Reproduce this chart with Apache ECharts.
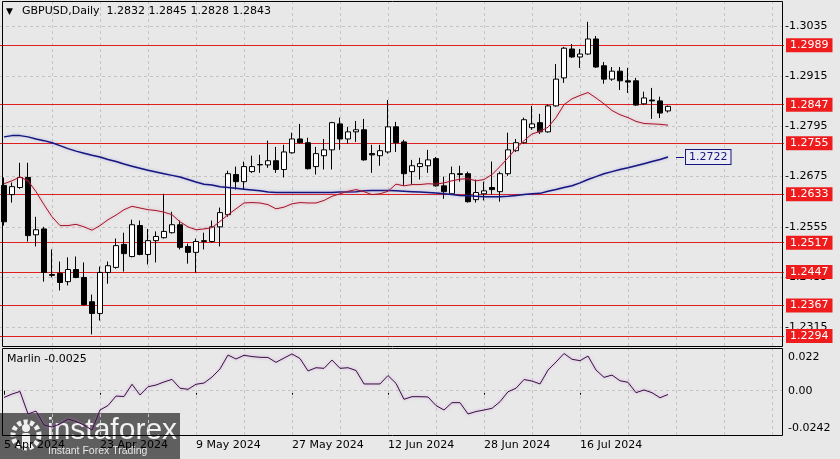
<!DOCTYPE html>
<html><head><meta charset="utf-8">
<script src="https://cdn.jsdelivr.net/npm/echarts/dist/echarts.min.js"></script>
<style>html,body{margin:0;padding:0;background:#e8e8e8}#c{width:840px;height:459px}</style>
</head><body><div id="c"></div>
<script>
const categories = [
'5 Apr 2024','8 Apr 2024','9 Apr 2024','10 Apr 2024','11 Apr 2024','12 Apr 2024','15 Apr 2024','16 Apr 2024','17 Apr 2024','18 Apr 2024',
'19 Apr 2024','22 Apr 2024','23 Apr 2024','24 Apr 2024','25 Apr 2024','26 Apr 2024','29 Apr 2024','30 Apr 2024','1 May 2024','2 May 2024',
'3 May 2024','6 May 2024','7 May 2024','8 May 2024','9 May 2024','10 May 2024','13 May 2024','14 May 2024','15 May 2024','16 May 2024',
'17 May 2024','20 May 2024','21 May 2024','22 May 2024','23 May 2024','24 May 2024','27 May 2024','28 May 2024','29 May 2024','30 May 2024',
'31 May 2024','3 Jun 2024','4 Jun 2024','5 Jun 2024','6 Jun 2024','7 Jun 2024','10 Jun 2024','11 Jun 2024','12 Jun 2024','13 Jun 2024',
'14 Jun 2024','17 Jun 2024','18 Jun 2024','19 Jun 2024','20 Jun 2024','21 Jun 2024','24 Jun 2024','25 Jun 2024','26 Jun 2024','27 Jun 2024',
'28 Jun 2024','1 Jul 2024','2 Jul 2024','3 Jul 2024','4 Jul 2024','5 Jul 2024','8 Jul 2024','9 Jul 2024','10 Jul 2024','11 Jul 2024',
'12 Jul 2024','15 Jul 2024','16 Jul 2024','17 Jul 2024','18 Jul 2024','19 Jul 2024','22 Jul 2024','23 Jul 2024','24 Jul 2024','25 Jul 2024',
'26 Jul 2024','29 Jul 2024','30 Jul 2024','31 Jul 2024'];
const futureSlots = 14;

const open = [1.2654,1.2632,1.2649,1.2673,1.2536,1.2550,1.2441,1.2444,1.2424,1.2453,
1.2434,1.2376,1.2348,1.2446,1.2458,1.2513,1.2484,1.2558,1.2489,1.2522,
1.2529,1.2541,1.2560,1.2508,1.2494,1.2520,1.2520,1.2555,1.2584,1.2680,
1.2663,1.2687,1.2703,1.2703,1.2713,1.2692,1.2732,1.2765,1.2756,1.2699,
1.2725,1.2739,1.2801,1.2765,1.2782,1.2787,1.2730,1.2725,1.2734,1.2794,
1.2758,1.2687,1.2699,1.2701,1.2718,1.2653,1.2634,1.2682,1.2682,1.2620,
1.2634,1.2649,1.2639,1.2682,1.2737,1.2756,1.2792,1.2804,1.2782,1.2844,
1.2911,1.2980,1.2961,1.2968,1.3004,1.2940,1.2908,1.2927,1.2904,1.2904,
1.2849,1.2858,1.2856,1.2832];
const high = [1.2673,1.2661,1.2708,1.2708,1.2579,1.2555,1.2501,1.2472,1.2482,1.2484,
1.2470,1.2393,1.2460,1.2472,1.2527,1.2541,1.2572,1.2570,1.2550,1.2544,
1.2634,1.2591,1.2570,1.2515,1.2527,1.2541,1.2570,1.2601,1.2689,1.2699,
1.2711,1.2725,1.2727,1.2761,1.2746,1.2751,1.2780,1.2801,1.2768,1.2746,
1.2765,1.2806,1.2816,1.2794,1.2808,1.2813,1.2751,1.2751,1.2858,1.2806,
1.2763,1.2715,1.2720,1.2739,1.2722,1.2675,1.2699,1.2701,1.2687,1.2668,
1.2663,1.2711,1.2687,1.2780,1.2765,1.2816,1.2844,1.2825,1.2847,1.2944,
1.2985,1.2992,1.2980,1.3045,1.3011,1.2949,1.2937,1.2937,1.2935,1.2911,
1.2878,1.2887,1.2866,1.2845];
const low = [1.2558,1.2613,1.2646,1.2520,1.2508,1.2424,1.2434,1.2403,1.2415,1.2432,
1.2367,1.2298,1.2331,1.2419,1.2455,1.2448,1.2482,1.2487,1.2465,1.2470,
1.2527,1.2539,1.2501,1.2467,1.2446,1.2501,1.2517,1.2508,1.2579,1.2644,
1.2644,1.2684,1.2684,1.2696,1.2684,1.2673,1.2730,1.2754,1.2692,1.2680,
1.2692,1.2692,1.2739,1.2754,1.2758,1.2713,1.2684,1.2701,1.2730,1.2734,
1.2653,1.2656,1.2668,1.2684,1.2651,1.2622,1.2632,1.2663,1.2613,1.2613,
1.2618,1.2632,1.2615,1.2677,1.2734,1.2754,1.2787,1.2777,1.2780,1.2842,
1.2899,1.2959,1.2935,1.2966,1.2935,1.2897,1.2904,1.2882,1.2875,1.2844,
1.2846,1.2813,1.2815,1.2828];
const close = [1.2567,1.2651,1.2673,1.2534,1.2548,1.2446,1.2439,1.2422,1.2453,1.2434,
1.2369,1.2348,1.2446,1.2462,1.2510,1.2491,1.2560,1.2489,1.2522,1.2532,
1.2544,1.2560,1.2506,1.2494,1.2520,1.2522,1.2555,1.2589,1.2682,1.2663,
1.2699,1.2699,1.2704,1.2713,1.2692,1.2734,1.2765,1.2756,1.2694,1.2730,
1.2739,1.2804,1.2765,1.2782,1.2787,1.2715,1.2727,1.2737,1.2794,1.2756,
1.2682,1.2701,1.2706,1.2715,1.2653,1.2639,1.2682,1.2680,1.2615,1.2637,
1.2641,1.2644,1.2682,1.2739,1.2756,1.2811,1.2801,1.2782,1.2844,1.2908,
1.2982,1.2961,1.2968,1.3004,1.2937,1.2908,1.2927,1.2904,1.2901,1.2846,
1.2863,1.2856,1.2827,1.2843];

const blueMA = [1.2770,1.2773,1.2773,1.2770,1.2765,1.2761,1.2756,1.2749,1.2742,1.2736,
1.2731,1.2726,1.2722,1.2716,1.2711,1.2705,1.2700,1.2695,1.2690,1.2686,
1.2682,1.2678,1.2674,1.2668,1.2662,1.2657,1.2655,1.2651,1.2649,1.2647,
1.2645,1.2643,1.2641,1.2638,1.2637,1.2637,1.2637,1.2637,1.2637,1.2637,
1.2637,1.2637,1.2638,1.2638,1.2639,1.2641,1.2642,1.2642,1.2642,1.2641,
1.2640,1.2639,1.2638,1.2637,1.2636,1.2634,1.2632,1.2630,1.2629,1.2628,
1.2627,1.2627,1.2627,1.2628,1.2630,1.2632,1.2634,1.2635,1.2640,1.2644,
1.2649,1.2653,1.2660,1.2668,1.2675,1.2682,1.2687,1.2692,1.2696,1.2701,
1.2706,1.2711,1.2716,1.2722];
const redMA = [1.2658,1.2665,1.2674,1.2665,1.2639,1.2608,1.2579,1.2558,1.2558,1.2561,
1.2555,1.2547,1.2558,1.2572,1.2583,1.2596,1.2604,1.2600,1.2596,1.2594,
1.2590,1.2584,1.2567,1.2555,1.2548,1.2550,1.2553,1.2568,1.2584,1.2598,
1.2612,1.2613,1.2612,1.2608,1.2598,1.2602,1.2610,1.2613,1.2612,1.2612,
1.2618,1.2628,1.2634,1.2640,1.2644,1.2639,1.2632,1.2634,1.2640,1.2657,
1.2653,1.2656,1.2656,1.2658,1.2657,1.2660,1.2665,1.2669,1.2670,1.2665,
1.2668,1.2680,1.2699,1.2720,1.2742,1.2761,1.2777,1.2783,1.2793,1.2816,
1.2847,1.2861,1.2869,1.2876,1.2863,1.2849,1.2833,1.2823,1.2816,1.2807,
1.2802,1.2801,1.2800,1.2798];
const marlin = [-0.0044,-0.0022,-0.0005,-0.0152,-0.0133,-0.0224,-0.0237,-0.0217,-0.0185,-0.0201,
-0.0224,-0.0257,-0.0126,-0.0097,-0.0035,-0.0038,0.0042,-0.0028,0.0026,0.0037,
0.0057,0.0074,0.0016,0.0009,0.0042,0.0050,0.0089,0.0142,0.0233,0.0207,
0.0231,0.0223,0.0218,0.0217,0.0185,0.0213,0.0240,0.0210,0.0129,0.0150,
0.0146,0.0200,0.0146,0.0150,0.0132,0.0044,0.0044,0.0044,0.0099,0.0048,
-0.0056,-0.0039,-0.0039,-0.0041,-0.0097,-0.0126,-0.0078,-0.0078,-0.0152,-0.0136,
-0.0126,-0.0115,-0.0072,-0.0007,0.0016,0.0073,0.0063,0.0044,0.0135,0.0187,
0.0243,0.0205,0.0196,0.0226,0.0135,0.0087,0.0102,0.0065,0.0055,-0.0013,
0.0005,-0.0013,-0.0046,-0.0025];

const priceTicks = [1.2315,1.2435,1.2555,1.2675,1.2795,1.2915,1.3035];
const levels = [1.2989,1.2847,1.2755,1.2633,1.2517,1.2447,1.2367,1.2294];
const marlinTicks = [0.022,0.00,-0.0242];
const marlinTickLabels = ['0.022','0.00','-0.0242'];
const dateLabelIdx = [0,12,24,36,48,60,72];
const vGridIdx = [6,12,18,24,30,36,42,48,54,60,66,72,78,84,90,96];
const maLabelValue = 1.2722;

const FONT = 'DejaVu Sans';
const cats = categories.concat(Array.from({length: futureSlots}, (_, i) => 'f' + (i + 1)));
const candleData = open.map((o, i) => [o, close[i], low[i], high[i]]);
const gridDash = {color: '#c4c4c4', type: [3, 3], width: 1};
const hiddenLine = {color: 'rgba(0,0,0,0)', width: 0};

const mainMarks = [];
vGridIdx.forEach(i => mainMarks.push({xAxis: i, lineStyle: gridDash, label: {show: false}}));
priceTicks.forEach(v => mainMarks.push({yAxis: v, lineStyle: gridDash,
  label: {show: true, position: 'end', distance: 1, formatter: '-' + v.toFixed(4), color: '#000', fontSize: 11, fontFamily: FONT}}));
levels.forEach(v => mainMarks.push({yAxis: v, lineStyle: {color: '#e02020', type: 'solid', width: 1},
  label: {show: true, position: 'end', distance: 2, formatter: v.toFixed(4), color: '#fff', backgroundColor: '#ee1c1c',
    padding: [1, 4, 0, 4], lineHeight: 13, fontSize: 11, fontFamily: FONT}}));

const subMarks = [];
vGridIdx.forEach(i => subMarks.push({xAxis: i, lineStyle: gridDash, label: {show: false}}));
marlinTicks.forEach((v, k) => subMarks.push({yAxis: v,
  lineStyle: v === 0 ? gridDash : hiddenLine,
  label: {show: true, position: 'end', distance: 4, formatter: marlinTickLabels[k], color: '#000', fontSize: 11, fontFamily: FONT}}));

const last = candleData.length - 1;
const title = 'GBPUSD,Daily  ' + [open[last], high[last], low[last], close[last]].map(v => v.toFixed(4)).join(' ');

const chart = echarts.init(document.getElementById('c'));
chart.setOption({
  animation: false,
  backgroundColor: '#e8e8e8',
  grid: [
    {left: 0, top: 2, width: 784, height: 344},
    {left: 0, top: 349, width: 784, height: 86}
  ],
  xAxis: [
    {type: 'category', gridIndex: 0, data: cats, boundaryGap: true, show: false},
    {type: 'category', gridIndex: 1, data: cats, boundaryGap: true,
      axisLine: {show: false},
      axisTick: {show: true, alignWithLabel: true, length: 4, inside: false,
        interval: (i) => dateLabelIdx.includes(i), lineStyle: {color: '#000'}},
      axisLabel: {show: true, interval: (i) => dateLabelIdx.includes(i), align: 'left', margin: 5,
        color: '#000', fontSize: 11, fontFamily: FONT},
      splitLine: {show: false}}
  ],
  yAxis: [
    {type: 'value', gridIndex: 0, min: 1.3035 - 320 / 4184, max: 1.3035 + 24 / 4184, show: false, splitLine: {show: false}},
    {type: 'value', gridIndex: 1, min: -44.3 / 1532, max: 41.7 / 1532, show: false, splitLine: {show: false}}
  ],
  series: [
    {type: 'candlestick', xAxisIndex: 0, yAxisIndex: 0, data: candleData, barWidth: 5, z: 3,
      itemStyle: {color: '#ffffff', color0: '#000000', borderColor: '#000000', borderColor0: '#000000', borderWidth: 1},
      markLine: {silent: true, symbol: ['none', 'none'], z: 1, precision: 6, animation: false, data: mainMarks}},
    {type: 'line', xAxisIndex: 0, yAxisIndex: 0, data: blueMA, symbol: 'none', z: 4, silent: true,
      lineStyle: {color: '#15157e', width: 1.5, shadowColor: 'rgba(120,120,230,0.5)', shadowBlur: 3},
      markLine: {silent: true, symbol: ['none', 'none'], z: 5, precision: 6, animation: false,
        data: [[{coord: [84, maLabelValue]}, {coord: [85, maLabelValue]}]],
        lineStyle: {color: '#15157e', type: 'solid', width: 1},
        label: {show: true, position: 'end', distance: 2, formatter: maLabelValue.toFixed(4), color: '#15157e',
          backgroundColor: '#ececf4', borderColor: '#15157e', borderWidth: 1, padding: [1, 3, 0, 3], lineHeight: 13,
          fontSize: 11, fontFamily: FONT}}},
    {type: 'line', xAxisIndex: 0, yAxisIndex: 0, data: redMA, symbol: 'none', z: 4, silent: true,
      lineStyle: {color: '#a3142c', width: 1, shadowColor: 'rgba(235,130,150,0.7)', shadowBlur: 3}},
    {type: 'line', xAxisIndex: 1, yAxisIndex: 1, data: marlin, symbol: 'none', z: 4, silent: true,
      lineStyle: {color: '#3a1242', width: 1, shadowColor: 'rgba(200,130,220,0.8)', shadowBlur: 3},
      markLine: {silent: true, symbol: ['none', 'none'], z: 1, precision: 6, animation: false, data: subMarks}}
  ],
  graphic: [
    {type: 'rect', shape: {x: 2.5, y: 1.5, width: 780, height: 345}, style: {fill: 'none', stroke: '#000', lineWidth: 1}, z: 50, silent: true},
    {type: 'rect', shape: {x: 2.5, y: 348.5, width: 780, height: 87}, style: {fill: 'none', stroke: '#000', lineWidth: 1}, z: 50, silent: true},
    {type: 'text', left: 6, top: 7, style: {text: '▼', fill: '#000', font: '9px ' + FONT}, z: 60},
    {type: 'text', left: 22, top: 6, style: {text: title, fill: '#000', font: '11px ' + FONT}, z: 60},
    {type: 'text', left: 7, top: 354, style: {text: 'Marlin ' + marlin[last].toFixed(4), fill: '#000', font: '11px ' + FONT}, z: 60},
    {type: 'group', left: 0, top: 413, z: 70, children: [
      {type: 'rect', shape: {x: 0, y: 0, width: 180, height: 46}, style: {fill: 'rgba(72,72,72,0.86)'}},
      {type: 'circle', shape: {cx: 26, cy: 22, r: 13}, style: {fill: 'none', stroke: '#f0f0f0', lineWidth: 5, lineDash: [4, 2.5]}},
      {type: 'circle', shape: {cx: 26, cy: 15, r: 4}, style: {fill: '#f0f0f0'}},
      {type: 'rect', shape: {x: 22, y: 20, width: 8, height: 14, r: 2}, style: {fill: '#f0f0f0'}},
      {type: 'text', style: {x: 47, y: 3, text: 'instaforex', fill: '#f2f2f2', font: '30px Liberation Sans'}},
      {type: 'text', style: {x: 48, y: 33, text: 'Instant Forex Trading', fill: '#e6e6e6', font: '10.5px Liberation Sans'}}
    ]}
  ]
});
</script></body></html>
